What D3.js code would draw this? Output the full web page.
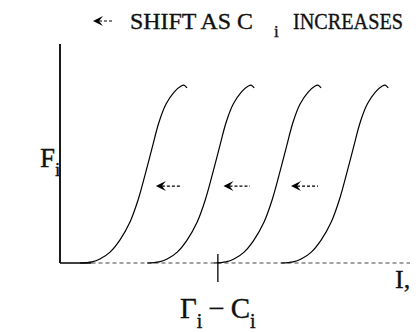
<!DOCTYPE html>
<html>
<head>
<meta charset="utf-8">
<script src="https://cdn.jsdelivr.net/npm/d3@7"></script>
<style>
  html, body { margin: 0; padding: 0; background: #fff; }
  svg { display: block; }
  text { font-family: "Liberation Serif", "DejaVu Serif", serif; fill: #111; stroke: #111; stroke-width: 0.35px; }
</style>
</head>
<body>
<svg id="chart" width="418" height="332"></svg>
<script>
// profile of one curve: position along I (units from the foot) and F (0..1)
var profileU = [0, 3.4, 5.7, 8.6, 11.4, 14.3, 16.6, 18.6, 20.6, 22.6, 24.6, 26.9, 28.9, 29.7, 30.6];
var profileF = [0, 0.006, 0.022, 0.061, 0.128, 0.229, 0.352, 0.492, 0.642, 0.788, 0.888, 0.955, 0.989, 0.994, 0.978];
// foot of each curve along I
var curveFeet = [5.7, 24.9, 44.0, 63.2];
// shift arrows (head, tail) along I and their F level
var arrowHead = [27.4, 46.7, 66.0];
var arrowTail = [34.6, 54.3, 73.7];
var arrowF = 0.43;
// marked position Γi − Ci
var markI = 45.1;

var svg = d3.select("#chart");
var x = d3.scaleLinear().domain([0, 100]).range([60, 410]);
var y = d3.scaleLinear().domain([0, 1]).range([263, 84]);

// axes
svg.append("line")
  .attr("x1", x(0)).attr("x2", x(0)).attr("y1", 44).attr("y2", y(0))
  .style("stroke", "#000").style("stroke-width", 1.8);
svg.append("line")
  .attr("x1", x(0)).attr("x2", x(9)).attr("y1", y(0)).attr("y2", y(0))
  .style("stroke", "#000").style("stroke-width", 1.5);
svg.append("line")
  .attr("x1", x(9)).attr("x2", x(100)).attr("y1", y(0)).attr("y2", y(0))
  .style("stroke", "#444").style("stroke-width", 1.2)
  .style("stroke-dasharray", "4,3");

// tick at Γi − Ci
svg.append("line")
  .attr("x1", x(markI)).attr("x2", x(markI)).attr("y1", y(0) - 9).attr("y2", y(0) + 19)
  .style("stroke", "#000").style("stroke-width", 1.3);

// curves
var line = d3.line()
  .x(function(d) { return x(d[0]); })
  .y(function(d) { return y(d[1]); })
  .curve(d3.curveCatmullRom);

svg.append("g").selectAll("path")
  .data(curveFeet)
  .enter().append("path")
  .attr("d", function(foot) {
    return line(profileU.map(function(u, i) { return [foot + u, profileF[i]]; }));
  })
  .style("fill", "none")
  .style("stroke", "#000")
  .style("stroke-width", 1.2);

// shift arrows
var arrows = svg.append("g").selectAll("g")
  .data(d3.range(arrowHead.length))
  .enter().append("g");
arrows.append("path")
  .attr("d", function(i) {
    var hx = x(arrowHead[i]), hy = y(arrowF);
    return "M" + hx + "," + hy + "L" + (hx + 10) + "," + (hy - 5) + "L" + (hx + 6) + "," + hy +
      "L" + (hx + 10) + "," + (hy + 5) + "Z";
  })
  .style("fill", "#000");
arrows.append("line")
  .attr("x1", function(i) { return x(arrowHead[i]) + 6; })
  .attr("x2", function(i) { return x(arrowTail[i]); })
  .attr("y1", y(arrowF)).attr("y2", y(arrowF))
  .style("stroke", "#000").style("stroke-width", 1.2)
  .style("stroke-dasharray", "3,2");

// title arrow + text
var tx = 93, ty = 29;
svg.append("path")
  .attr("d", "M" + tx + "," + (ty - 8) + "L" + (tx + 10) + "," + (ty - 13) + "L" + (tx + 6) + "," + (ty - 8) +
    "L" + (tx + 10) + "," + (ty - 3) + "Z")
  .style("fill", "#000");
svg.append("line")
  .attr("x1", tx + 6).attr("x2", tx + 21).attr("y1", ty - 8).attr("y2", ty - 8)
  .style("stroke", "#000").style("stroke-width", 1.2).style("stroke-dasharray", "3,2");

var title = svg.append("text").attr("y", ty).style("font-size", "23px");
title.append("tspan").attr("x", 130).attr("textLength", 123).attr("lengthAdjust", "spacingAndGlyphs").text("SHIFT AS C");
title.append("tspan").attr("x", 274).attr("dy", 8).style("font-size", "17px").text("i");
title.append("tspan").attr("x", 293).attr("dy", -8).attr("textLength", 110).attr("lengthAdjust", "spacingAndGlyphs").text("INCREASES");

// y label
var fl = svg.append("text").attr("x", 40).attr("y", 167).style("font-size", "27px");
fl.append("tspan").text("F");
fl.append("tspan").attr("dy", 9).attr("dx", 0).style("font-size", "19px").text("i");

// x labels
var gl = svg.append("text").attr("x", 180).attr("y", 318).style("font-size", "29px");
gl.append("tspan").text("Γ");
gl.append("tspan").attr("dy", 10).style("font-size", "20px").text("i");
gl.append("tspan").attr("dy", -10).attr("dx", 6).text("−");
gl.append("tspan").attr("dx", 6).text("C");
gl.append("tspan").attr("dy", 10).style("font-size", "20px").text("i");

svg.append("text").attr("x", 395).attr("y", 288).style("font-size", "26px").text("I,");
</script>
</body>
</html>
